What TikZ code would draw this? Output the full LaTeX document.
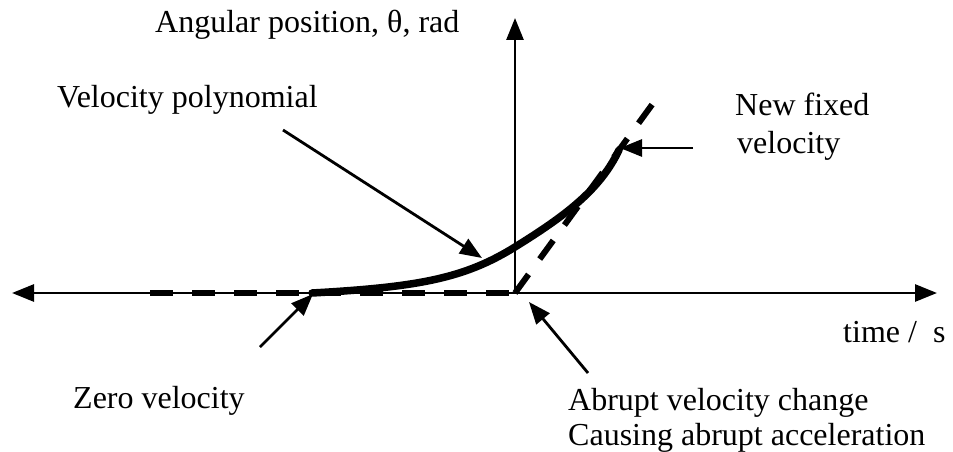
\documentclass[tikz,border=0pt]{standalone}
\usepackage{fontspec}
\setmainfont{Liberation Serif}
\usetikzlibrary{arrows.meta}
\begin{document}
\begin{tikzpicture}[x=1pt,y=-1pt,
  axisline/.style={line width=2.8pt},
  tipstyle/.style={-{Triangle[length=22pt,width=17pt]}},
  callout/.style={line width=2.8pt,-{Triangle[length=22pt,width=17pt]}},
  lbl/.style={inner sep=0pt,anchor=base west,font=\fontsize{32}{36}\selectfont},
  dashline/.style={line width=6pt,dash pattern=on 23pt off 19pt},
  poly/.style={line width=7.5pt,line cap=round}]
\useasboundingbox (0,0) rectangle (953,452);
% axes
\coordinate (O) at (515,293);
\coordinate (xl) at (12,293);
\coordinate (xr) at (937,293);
\coordinate (yt) at (515,18);
\draw[axisline,{Triangle[length=22pt,width=17pt]}-{Triangle[length=22pt,width=17pt]}] (xl) -- (xr);
\draw[axisline,tipstyle] (O) -- (yt);
% dashed lines
\coordinate (d0) at (150,293);
\coordinate (d1) at (654,102);
\draw[dashline] (d0) -- (O);
\draw[dashline] (O) -- (d1);
% polynomial curve
\coordinate (c0) at (312,293);
\coordinate (c1) at (515,247);
\coordinate (c2) at (619,150);
\draw[poly] (c0) .. controls (420,287) and (465,278) .. (c1)
            .. controls (565,216) and (600,190) .. (c2);
% labels
\node[lbl] (title) at (155,33) {Angular position, θ, rad};
\node[lbl] (vp) at (57,107) {Velocity polynomial};
\node[lbl] (nf1) at (735,115) {New fixed};
\node[lbl] (nf2) at (737,153) {velocity};
\node[lbl] (time) at (843,342) {time /\ \ s};
\node[lbl] (zv) at (73,408) {Zero velocity};
\node[lbl] (ab1) at (568,410) {Abrupt velocity change};
\node[lbl] (ab2) at (568,445) {Causing abrupt acceleration};
% callout arrows
\coordinate (vps) at (283,130);
\coordinate (vpe) at (482,258);
\draw[callout] (vps) -- (vpe);
\coordinate (nfs) at (693,148);
\coordinate (nfe) at (620,148);
\draw[callout] (nfs) -- (nfe);
\coordinate (zvs) at (260,347);
\coordinate (zve) at (313,294);
\draw[callout] (zvs) -- (zve);
\coordinate (abs) at (588,373);
\coordinate (abe) at (529,302);
\draw[callout] (abs) -- (abe);
\end{tikzpicture}
\end{document}
